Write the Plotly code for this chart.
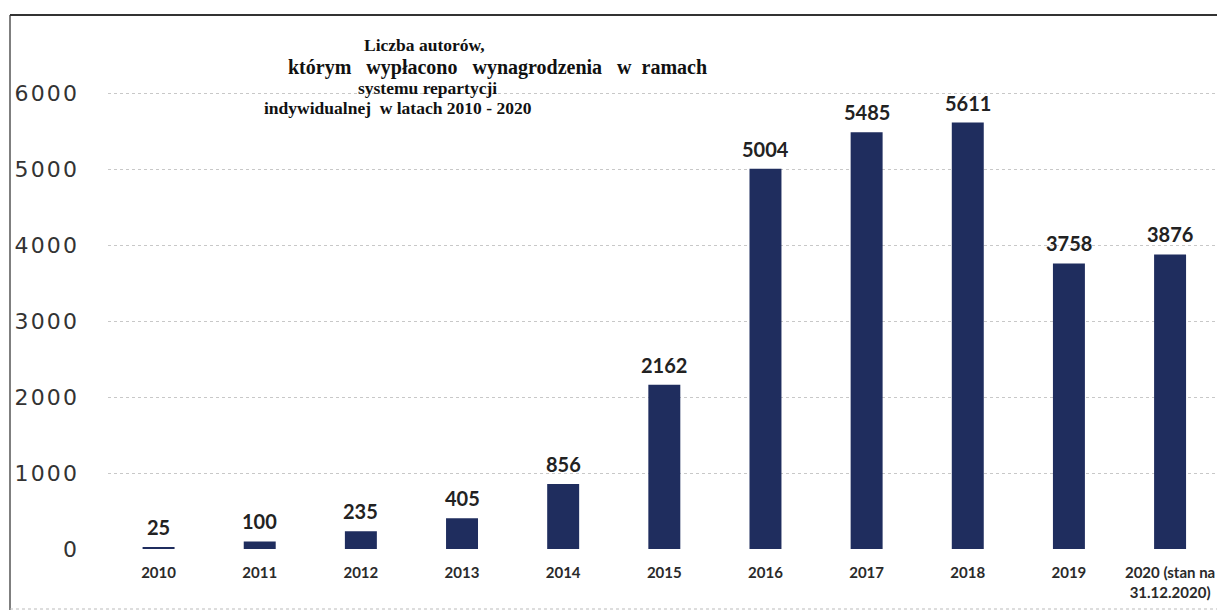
import plotly.graph_objects as go

# ---------------- data ----------------
categories = ["2010", "2011", "2012", "2013", "2014", "2015", "2016", "2017",
              "2018", "2019", "2020 (stan na<br>31.12.2020)"]
values = [25, 100, 235, 405, 856, 2162, 5004, 5485, 5611, 3758, 3876]
y_tick_values = [0, 1000, 2000, 3000, 4000, 5000, 6000]
y_tick_labels = ["0", "1000", "2000", "3000", "4000", "5000", "6000"]
title_lines = [
    "Liczba autorów,",
    "którym   wypłacono   wynagrodzenia   w  ramach",
    "systemu repartycji",
    "indywidualnej  w latach 2010 - 2020",
]

# ---------------- layout geometry (pixels) ----------------
W, H = 1217, 612
L, R, T, B = 108, 1217, 17, 549
PW, PH = R - L, B - T


def px_x(px):
    return (px - L) / PW


def px_y(py):
    return (B - py) / PH


spaced_labels = ["\u200a".join(list(s)) for s in y_tick_labels]

fig = go.Figure()
fig.add_trace(go.Bar(
    x=list(range(len(categories))),
    y=values,
    marker=dict(color="#1f2d5e", line=dict(width=0)),
    hoverinfo="x+y",
))

# value labels
for i, v in enumerate(values):
    fig.add_annotation(
        x=i, y=v, xref="x", yref="y", text=str(v), showarrow=False,
        yanchor="bottom", xanchor="center", yshift=6,
        font=dict(family="Lato", size=20, color="#222222", weight="bold"),
    )

# title lines
title_pos = [(424, 45), (497, 67), (427, 88), (398, 108)]
title_sizes = [17.5, 20, 17.5, 17.5]
for line, (cx, cy), fs in zip(title_lines, title_pos, title_sizes):
    fig.add_annotation(
        x=px_x(cx), y=px_y(cy), xref="paper", yref="paper",
        text=line.replace(" ", "\u00a0"),
        showarrow=False, xanchor="center", yanchor="middle",
        font=dict(family="Liberation Serif", size=fs, color="#111111", weight="bold"),
    )

# frame lines (scan border)
fig.add_shape(type="line", xref="paper", yref="paper",
              x0=px_x(10), x1=px_x(10), y0=px_y(610), y1=px_y(15),
              line=dict(color="#555555", width=1.5))
fig.add_shape(type="line", xref="paper", yref="paper",
              x0=px_x(10), x1=px_x(1217), y0=px_y(15), y1=px_y(15),
              line=dict(color="#333333", width=2))
fig.add_shape(type="line", xref="paper", yref="paper",
              x0=px_x(10), x1=px_x(1217), y0=px_y(609), y1=px_y(609),
              line=dict(color="#bbbbbb", width=1, dash="dot"))

band = 101.15
fig.update_layout(
    width=W, height=H,
    margin=dict(l=L, r=W - R, t=T, b=H - B, pad=0),
    paper_bgcolor="white", plot_bgcolor="white",
    showlegend=False,
    bargap=0.684,
    xaxis=dict(
        range=[-0.5, -0.5 + PW / band],
        tickmode="array",
        tickvals=list(range(len(categories))),
        ticktext=categories,
        showgrid=False, zeroline=False, showline=False,
        ticks="", ticklabelstandoff=13,
        tickfont=dict(family="Lato", size=15, color="#2a2a2a", weight="bold"),
        fixedrange=True,
    ),
    yaxis=dict(
        range=[0, 7000],
        tickmode="array",
        tickvals=y_tick_values,
        ticktext=spaced_labels,
        showgrid=True, gridcolor="#c8c8c8", gridwidth=1, griddash="dot",
        zeroline=False, showline=False,
        ticks="", ticklabelstandoff=30,
        tickfont=dict(family="DejaVu Sans", size=22, color="#333333"),
        fixedrange=True,
    ),
)

fig.write_html(
    "out.html",
    config={"displayModeBar": False},
    post_script="document.body.style.margin='0';document.body.style.overflow='hidden';",
)
